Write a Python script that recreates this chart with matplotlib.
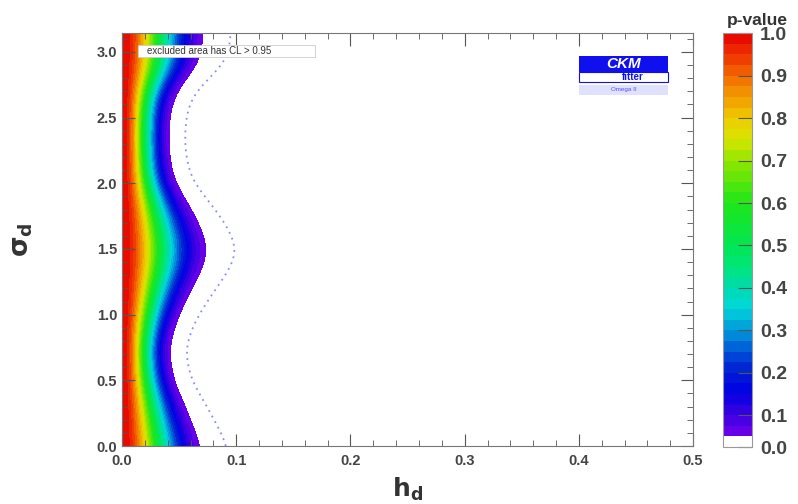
import numpy as np
import matplotlib
matplotlib.use("Agg")
import matplotlib.pyplot as plt
from matplotlib.colors import LinearSegmentedColormap
from matplotlib.patches import Rectangle
from matplotlib.ticker import MultipleLocator

plt.rcParams['font.family'] = ['Liberation Sans', 'DejaVu Sans']
plt.rcParams['font.weight'] = 'bold'

# h_d reach of the 95% CL exclusion edge along sigma_d
sigma_edge = [0.00, 0.20, 0.35, 0.50, 0.73, 0.88, 0.96, 1.11, 1.26, 1.38,
              1.49, 1.57, 1.72, 1.87, 2.03, 2.25, 2.41, 2.56, 2.69, 2.79,
              2.94, 3.1416]
h_edge = [0.069, 0.060, 0.053, 0.045, 0.041, 0.045, 0.048, 0.056, 0.065, 0.072,
          0.075, 0.073, 0.066, 0.056, 0.045, 0.041, 0.041, 0.0425, 0.047, 0.056,
          0.069, 0.071]

cl_level = 0.05        # excluded area has CL > 0.95
dotted_level = 0.0045  # outer dotted contour

pv_ticks = [0.0, 0.1, 0.2, 0.3, 0.4, 0.5, 0.6, 0.7, 0.8, 0.9, 1.0]
h_ticks = [0.0, 0.1, 0.2, 0.3, 0.4, 0.5]
s_ticks = [0.0, 0.5, 1.0, 1.5, 2.0, 2.5, 3.0]

# p-value surface on the (h_d, sigma_d) plane
hh = np.linspace(0, 0.5, 500)
ss = np.linspace(0, np.pi, 400)
H, S = np.meshgrid(hh, ss)
w = np.interp(ss, sigma_edge, h_edge)
# soften the kinks of the piecewise edge
k = np.exp(-0.5 * (np.arange(-30, 31) / 10.0) ** 2)
k /= k.sum()
w = np.convolve(np.pad(w, 30, mode='edge'), k, mode='valid')
W = w[:, None]
P = cl_level ** ((H / W) ** 2)

rainbow = LinearSegmentedColormap.from_list('ckm', [
    (0.00, (0.45, 0.00, 0.92)),
    (0.06, (0.20, 0.00, 0.88)),
    (0.11, (0.00, 0.00, 0.90)),
    (0.16, (0.00, 0.12, 0.82)),
    (0.21, (0.00, 0.32, 0.85)),
    (0.26, (0.00, 0.58, 0.85)),
    (0.32, (0.00, 0.85, 0.85)),
    (0.37, (0.00, 0.86, 0.68)),
    (0.42, (0.00, 0.90, 0.48)),
    (0.47, (0.00, 0.90, 0.33)),
    (0.58, (0.12, 0.90, 0.10)),
    (0.68, (0.55, 0.90, 0.00)),
    (0.74, (0.85, 0.90, 0.00)),
    (0.79, (0.93, 0.80, 0.00)),
    (0.84, (0.95, 0.62, 0.00)),
    (0.90, (0.95, 0.40, 0.00)),
    (0.96, (0.93, 0.15, 0.00)),
    (1.00, (0.90, 0.00, 0.00)),
])

levels = np.concatenate([[0.0], np.arange(0.05, 1.0001, 0.025)])
mids = (levels[1:-1] + levels[2:]) / 2
colors = ['white'] + [rainbow((m - 0.05) / 0.95) for m in mids]

fig = plt.figure(figsize=(7.98, 5.04), dpi=100)
ax = fig.add_axes([0.153, 0.115, 0.7155, 0.819])
cax = fig.add_axes([0.906, 0.113, 0.036, 0.821])

cf = ax.contourf(H, S, P, levels=levels, colors=colors)
ax.contour(H, S, P, levels=[dotted_level], colors='#8a8aff',
           linestyles=[(0, (1, 2.5))], linewidths=1.3)

ax.set_xlim(0, 0.5)
ax.set_ylim(0, np.pi)
ax.set_xticks(h_ticks)
ax.set_yticks(s_ticks)
ax.xaxis.set_minor_locator(MultipleLocator(0.02))
ax.yaxis.set_minor_locator(MultipleLocator(0.1))
ax.tick_params(which='both', direction='in', top=True, right=True,
               color='#555555', labelcolor='#444444', labelsize=10.5)
ax.tick_params(which='major', length=9)
ax.tick_params(which='minor', length=4)
ax.tick_params(axis='x', pad=6)
for sp in ax.spines.values():
    sp.set_color('#777777')

ax.set_xlabel(r'$\mathbf{h_d}$', fontsize=18, color='#333333', labelpad=5)
ax.set_ylabel(r'$\mathbf{\sigma_d}$', fontsize=19, color='#333333', labelpad=44)

# legend box
ax.add_patch(Rectangle((0.014, 2.96), 0.155, 0.09, fc='white', ec='#cccccc',
                       lw=0.6, zorder=3))
ax.text(0.022, 3.005, 'excluded area has CL > 0.95', fontsize=7,
        fontweight='normal', color='#333333', va='center', zorder=4)

# CKMfitter logo
ax.add_patch(Rectangle((0.400, 2.85), 0.078, 0.12, fc='#1010ee', ec='none'))
ax.text(0.439, 2.91, 'CKM', fontsize=11, color='white', style='italic',
        ha='center', va='center')
ax.add_patch(Rectangle((0.400, 2.77), 0.078, 0.08, fc='white', ec='#1010ee', lw=0.8))
ax.text(0.447, 2.81, 'fitter', fontsize=7, color='#1010ee', ha='center', va='center')
ax.add_patch(Rectangle((0.400, 2.67), 0.078, 0.08, fc='#e0e0ff', ec='none'))
ax.text(0.439, 2.71, 'Omega II', fontsize=4.5, fontweight='normal',
        color='#5050ff', ha='center', va='center')

cb = fig.colorbar(cf, cax=cax, ticks=pv_ticks)
cb.outline.set_edgecolor('#999999')
cb.ax.tick_params(direction='in', length=10, color='#555555',
                  labelcolor='#444444', labelsize=14, pad=6)
cb.ax.set_yticklabels(['%.1f' % t for t in pv_ticks])
cax.text(1.2, 1.012, 'p-value', transform=cax.transAxes, ha='center',
         va='bottom', fontsize=12.5, color='#333333')

fig.savefig('out.png', dpi=100)
